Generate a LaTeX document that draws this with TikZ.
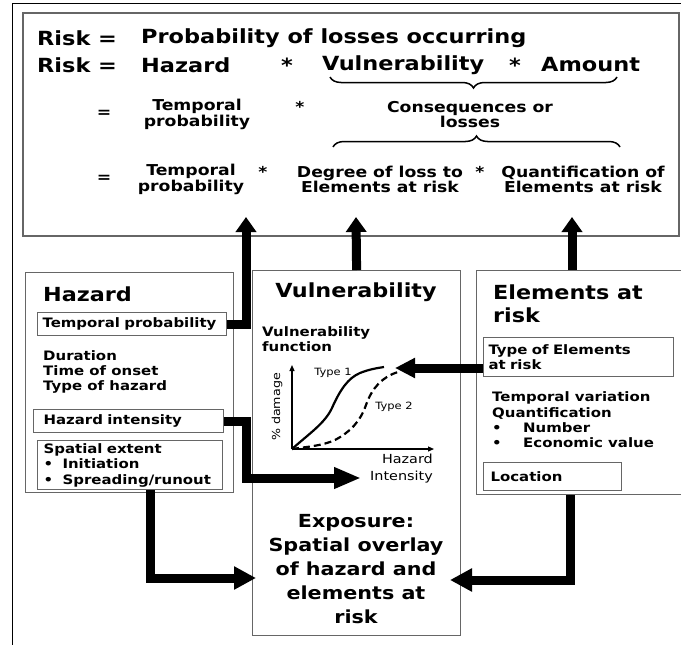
\documentclass[tikz,border=0pt]{standalone}
\usepackage{fontspec}
\setmainfont{DejaVu Sans}[FakeStretch=1.15]
\usetikzlibrary{arrows.meta,decorations.pathreplacing}
\newcommand\myfs[2]{\fontsize{#1}{#2}\selectfont}
\begin{document}
\begin{tikzpicture}[x=1pt,y=-1pt,
  box/.style={draw=black!60, line width=1.2pt, inner sep=0pt, anchor=north west},
  sub/.style={draw=black!60, line width=1.1pt, anchor=north west, inner ysep=0pt, align=left, font=\myfs{13}{15.5}\bfseries},
  txt/.style={inner sep=0pt, align=left, font=\myfs{13}{15.3}\bfseries},
  big/.style={inner sep=0pt, font=\myfs{19.5}{23}\bfseries},
  mid/.style={inner sep=0pt, align=center, font=\myfs{15}{15.5}\bfseries},
  title/.style={inner sep=0pt, align=left, font=\myfs{19.4}{23}\bfseries},
  up/.style={line width=9pt, -{Triangle[length=15pt,width=20pt]}},
  fat/.style={line width=9pt, line join=miter, -{Triangle[length=22pt,width=22pt]}},
  axis/.style={line width=1.2pt, -{Triangle[length=6pt,width=5pt]}},
  curve/.style={line width=2.2pt},
  bracestyle/.style={line width=1.5pt, decorate, decoration={brace, amplitude=11pt, aspect=0.5}}
]
\useasboundingbox (0,0) rectangle (681,645);
% outer frame
\coordinate (f1) at (681,3); \coordinate (f2) at (12,3); \coordinate (f3) at (12,645);
\draw[black, line width=1pt] (f1) -- (f2) -- (f3);

% top box
\node[box, line width=1.5pt, minimum width=656pt, minimum height=223pt] (top) at (22,12) {};
\node[big, anchor=west] (r1) at (37,38) {Risk =};
\node[big, anchor=west] (p1) at (141,38) {Probability of losses occurring};
\node[big, anchor=west] (r2) at (37,65) {Risk =};
\node[big, anchor=west] (hz) at (141,65) {Hazard};
\node[big] (s1) at (287,65) {*};
\node[big, anchor=west] (vu) at (322,65) {Vulnerability};
\node[big] (s2) at (515,65) {*};
\node[big, anchor=west] (am) at (541,65) {Amount};
\coordinate (b1r) at (617,77); \coordinate (b1l) at (330,77);
\draw[bracestyle] (b1r) -- (b1l);
\node[mid] (e3) at (104,114) {=};
\node[mid] (tp3) at (197,114.5) {Temporal\\probability};
\node[mid] (s3) at (300,107) {*};
\node[mid] (co) at (470,114.5) {Consequences or\\losses};
\coordinate (b2l) at (333,147); \coordinate (b2r) at (620,147);
\draw[bracestyle] (b2l) -- (b2r);
\node[mid] (e5) at (104,179) {=};
\node[mid] (tp5) at (191,179.5) {Temporal\\probability};
\node[mid] (s4) at (263,172) {*};
\node[mid] (dl) at (380,179.5) {Degree of loss to\\Elements at risk};
\node[mid] (s5) at (480,172) {*};
\node[mid] (qe) at (583,179.5) {Quantification of\\Elements at risk};

% hazard box
\node[box, minimum width=208pt, minimum height=220pt] (haz) at (25,272) {};
\node[title, anchor=west] (hzt) at (43,294) {Hazard};
\node[sub, minimum width=189pt, minimum height=23pt, inner xsep=5pt, text width=179pt] (tp) at (37,312) {Temporal probability};
\node[txt, anchor=west] (dur) at (43,372) {Duration\\Time of onset\\Type of hazard};
\node[sub, minimum width=190pt, minimum height=23pt, inner xsep=10pt, text width=170pt] (hi) at (33,409) {Hazard intensity};
\node[sub, minimum width=185pt, minimum height=49pt, inner xsep=6pt, text width=173pt] (se) at (37,440)
  {Spatial extent\\\makebox[19pt][l]{•}Initiation\\\makebox[19pt][l]{•}Spreading/runout};

% vulnerability box
\node[box, minimum width=208pt, minimum height=365pt] (vul) at (252,270) {};
\node[title, anchor=center] (vt) at (356,292) {Vulnerability};
\node[txt, anchor=west] (vf) at (262,339) {Vulnerability\\function};
\coordinate (o) at (292,449);
\coordinate (yt) at (292,365);
\coordinate (xt) at (434,449);
\draw[axis] (o) -- (yt);
\draw[axis] (o) -- (xt);
\draw[curve] (o) .. controls (310,433) and (325,423) .. (332,408) .. controls (340,390) and (348,378) .. (360,373) .. controls (370,369) and (378,368) .. (384,367);
\draw[curve, dash pattern=on 7pt off 4pt] (o) .. controls (305,447) and (322,446) .. (335,440) .. controls (350,432) and (360,422) .. (366,405) .. controls (372,388) and (382,377) .. (398,372);
\node[inner sep=0pt, font=\myfs{10}{12}] (t1) at (333,373) {Type 1};
\node[inner sep=0pt, font=\myfs{10}{12}] (t2) at (394,407) {Type 2};
\node[inner sep=0pt, rotate=90, font=\myfs{11}{13}] (pd) at (277,407) {\% damage};
\node[inner sep=0pt, anchor=east, align=right, font=\myfs{12.5}{17}] (hzi) at (433,468.5) {Hazard\\Intensity};
\node[inner sep=0pt, align=center, font=\myfs{18}{24}\bfseries] (exp) at (356,569) {Exposure:\\Spatial overlay\\of hazard and\\elements at\\risk};

% elements box
\node[box, minimum width=207pt, minimum height=224pt] (el) at (476,270) {};
\node[title, anchor=west] (et) at (493,303.5) {Elements at\\risk};
\node[sub, minimum width=190pt, minimum height=39pt, inner xsep=5pt, text width=180pt] (te) at (483,337) {Type of Elements\\at risk};
\node[txt, anchor=west] (tv) at (492,420) {Temporal variation\\Quantification\\\makebox[31pt][l]{•}Number\\\makebox[31pt][l]{•}Economic value};
\node[sub, minimum width=138pt, minimum height=28pt, inner xsep=7pt, text width=124pt] (loc) at (483,462) {Location};

% big arrows
\coordinate (a1) at (246,217);
\draw[up, line join=miter] (tp.east) -| (a1);
\coordinate (a2) at (356,217);
\draw[up] (vul.north) -- (a2);
\coordinate (a3) at (572,217);
\draw[up] (el.north -| a3) -- (a3);
\coordinate (a4) at (395,368);
\draw[fat, -{Triangle[length=20pt,width=19pt]}] (te.west |- a4) -- (a4);
\coordinate (c5) at (246,478); \coordinate (a5) at (361,478);
\draw[fat, -{Triangle[length=27pt,width=20pt]}] (hi.east) -| (c5) -- (a5);
\coordinate (c6) at (150,578); \coordinate (a6) at (256,578);
\draw[fat] (se.south -| c6) -- (c6) -- (a6);
\coordinate (c7) at (570,580); \coordinate (a7) at (450,580);
\draw[fat] (el.south -| c7) -- (c7) -- (a7);
\end{tikzpicture}
\end{document}
